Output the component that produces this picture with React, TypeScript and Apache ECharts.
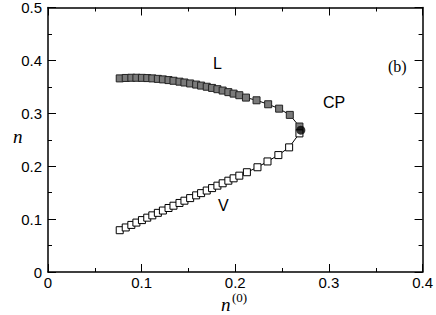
import React, { useEffect, useRef } from "react";
import * as echarts from "echarts";

const n0Liquid = [0.0766, 0.083, 0.089, 0.0944, 0.1003, 0.106, 0.1114, 0.1173, 0.1227, 0.1287, 0.134, 0.1404, 0.1457, 0.1518, 0.1582, 0.1635, 0.1695, 0.1752, 0.1809, 0.1865, 0.1926, 0.1982, 0.2043, 0.2114, 0.2227, 0.2351, 0.2468, 0.2582, 0.2685];
const nLiquid = [0.366, 0.3668, 0.3672, 0.3672, 0.367, 0.3666, 0.366, 0.3651, 0.3641, 0.3628, 0.3615, 0.3598, 0.3582, 0.3564, 0.3543, 0.3524, 0.3502, 0.348, 0.3456, 0.343, 0.34, 0.3372, 0.3342, 0.3297, 0.3246, 0.3171, 0.3088, 0.297, 0.275];
const n0Vapor = [0.0766, 0.083, 0.089, 0.0944, 0.1003, 0.106, 0.1114, 0.1173, 0.1227, 0.1287, 0.134, 0.1404, 0.1457, 0.1518, 0.1582, 0.1635, 0.1695, 0.1752, 0.1809, 0.1865, 0.1926, 0.1982, 0.2043, 0.2124, 0.2237, 0.2344, 0.246, 0.2575, 0.2685];
const nVapor = [0.079, 0.0842, 0.089, 0.0934, 0.0981, 0.1027, 0.1071, 0.1118, 0.1162, 0.121, 0.1253, 0.1305, 0.1348, 0.1397, 0.1449, 0.1491, 0.154, 0.1586, 0.1632, 0.1677, 0.1726, 0.1771, 0.1821, 0.1886, 0.198, 0.209, 0.221, 0.2356, 0.262];
const criticalPoint = [0.27, 0.268];
const xTicks = [0, 0.1, 0.2, 0.3, 0.4];
const yTicks = [0, 0.1, 0.2, 0.3, 0.4, 0.5];

const sans = "'Liberation Sans', Arial, sans-serif";
const serif = "'Liberation Serif', 'Times New Roman', serif";

export default function App() {
  const ref = useRef<HTMLDivElement>(null);
  useEffect(() => {
    if (!ref.current) return;
    document.body.style.margin = "0";
    const chart = echarts.init(ref.current, undefined, { renderer: "svg" });
    const axisCommon = {
      axisLine: { show: true, onZero: false, lineStyle: { color: "#000", width: 1.5 } },
      axisTick: { show: true, inside: true, length: 8, lineStyle: { color: "#000", width: 1 } },
      minorTick: { show: true, splitNumber: 2, length: 4, lineStyle: { color: "#000", width: 1 } },
      splitLine: { show: false },
    };
    const fmtX = (v: number) => (xTicks.includes(Math.round(v * 10) / 10) ? String(Math.round(v * 10) / 10) : "");
    const fmtY = (v: number) => (yTicks.includes(Math.round(v * 10) / 10) ? String(Math.round(v * 10) / 10) : "");
    chart.setOption({
      animation: false,
      backgroundColor: "#fff",
      grid: { left: 48, right: 12, top: 6, bottom: 43, containLabel: false },
      xAxis: [
        {
          type: "value", min: 0, max: 0.4, interval: 0.1, position: "bottom",
          ...axisCommon,
          axisLabel: { color: "#000", fontSize: 15, lineHeight: 15, fontFamily: sans, margin: 3, formatter: fmtX },
        },
        {
          type: "value", min: 0, max: 0.4, interval: 0.1, position: "top",
          ...axisCommon,
          axisLabel: { show: false },
        },
      ],
      yAxis: [
        {
          type: "value", min: 0, max: 0.5, interval: 0.1, position: "left",
          ...axisCommon,
          axisLabel: { color: "#000", fontSize: 15, fontFamily: sans, margin: 6, formatter: fmtY },
        },
        {
          type: "value", min: 0, max: 0.5, interval: 0.1, position: "right",
          ...axisCommon,
          axisLabel: { show: false },
        },
      ],
      series: [
        {
          type: "line",
          data: n0Liquid.map((x, i) => [x, nLiquid[i]]),
          symbol: "rect",
          symbolSize: 7,
          itemStyle: { color: "#7a7a7a", borderColor: "#222", borderWidth: 1 },
          lineStyle: { color: "#000", width: 1 },
          z: 3,
        },
        {
          type: "line",
          data: n0Vapor.map((x, i) => [x, nVapor[i]]),
          symbol: "rect",
          symbolSize: 7,
          itemStyle: { color: "#fff", borderColor: "#000", borderWidth: 1 },
          lineStyle: { color: "#000", width: 1 },
          z: 3,
        },
        {
          type: "scatter",
          data: [criticalPoint],
          symbol: "circle",
          symbolSize: 9,
          itemStyle: { color: "#000" },
          z: 5,
        },
      ],
      graphic: [
        { type: "text", left: 213, top: 55, style: { text: "L", font: `16px ${sans}`, fill: "#000" } },
        { type: "text", left: 218, top: 197, style: { text: "V", font: `16px ${sans}`, fill: "#000" } },
        { type: "text", left: 323, top: 94, style: { text: "CP", font: `16px ${sans}`, fill: "#000" } },
        { type: "text", left: 388, top: 58, style: { text: "(b)", font: `16px ${serif}`, fill: "#000" } },
        { type: "text", left: 13, top: 127, style: { text: "n", font: `italic 19px ${serif}`, fill: "#000" } },
        { type: "text", left: 221, top: 295, style: { text: "n", font: `italic 19px ${serif}`, fill: "#000" } },
        { type: "text", left: 232, top: 291, style: { text: "(0)", font: `13px ${serif}`, fill: "#000" } },
      ],
    });
    return () => chart.dispose();
  }, []);
  return <div ref={ref} style={{ width: 436, height: 315 }} />;
}
